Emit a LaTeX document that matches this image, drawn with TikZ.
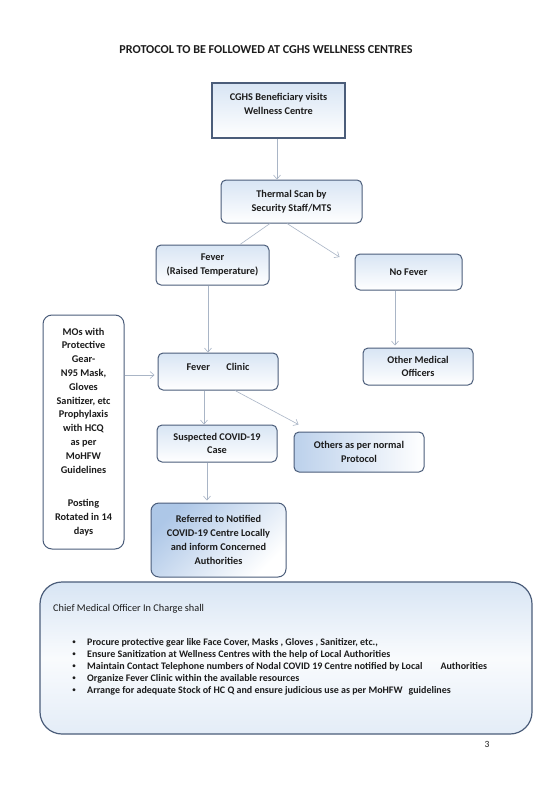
\documentclass[tikz,border=0pt]{standalone}
\usepackage{fontspec}
\setmainfont{Carlito}
\usetikzlibrary{calc,arrows.meta}
\definecolor{bordc}{HTML}{4B5D7A}
\definecolor{arrc}{HTML}{A9B5C6}
\definecolor{lblue}{HTML}{D8E5F4}
\definecolor{mblue}{HTML}{9FBDE3}
\definecolor{txtc}{HTML}{1C1C1C}
\begin{document}
\begin{tikzpicture}[x=1pt,y=-1pt,
  box/.style={draw=bordc, line width=1pt, align=center, text=txtc,
    font=\fontsize{10.3}{13.8}\selectfont\bfseries, inner sep=2pt,
    top color=lblue, bottom color=white},
  rbox/.style={box, rounded corners=5pt},
  conn/.style={draw=arrc, line width=0.6pt, -{Straight Barb[length=4pt,width=7pt]}},
  plainline/.style={draw=arrc, line width=0.6pt},
  bul/.style={anchor=base west, inner sep=0pt, text=txtc, font=\fontsize{10}{12}\selectfont\bfseries},
]
\useasboundingbox[fill=white] (0,0) rectangle (555,792);

\node[font=\fontsize{12.1}{14}\selectfont\bfseries, text=txtc] (title) at (266,50)
  {PROTOCOL TO BE FOLLOWED AT CGHS WELLNESS CENTRES};

\node[box, line width=1.3pt, minimum width=133pt, minimum height=55pt] (visit) at (278.5,110.5)
  {CGHS Beneficiary visits\\Wellness Centre\\~};
\node[rbox, minimum width=141pt, minimum height=43pt] (scan) at (291.5,201.5)
  {Thermal Scan by\\Security Staff/MTS};
\node[rbox, minimum width=113pt, minimum height=40pt] (fever) at (212.5,265)
  {Fever\\(Raised Temperature)};
\node[rbox, minimum width=107pt, minimum height=36pt] (nofever) at (408.5,272)
  {No Fever};
\node[rbox, minimum width=110pt, minimum height=37pt] (othermed) at (418,366.5)
  {Other Medical\\Officers};
\node[rbox, minimum width=120pt, minimum height=37pt] (clinic) at (218,371.5)
  {Fever\hspace{1.6em}Clinic\\[-4pt]~};
\node[rbox, minimum width=81pt, minimum height=234pt, rounded corners=9pt,
  top color=white, bottom color=white] (mos) at (83.5,432)
  {MOs with\\Protective\\Gear-\\N95 Mask,\\Gloves\\Sanitizer, etc\\Prophylaxis\\with HCQ\\as per\\MoHFW\\Guidelines\\[20pt]Posting\\Rotated in 14\\days};
\node[rbox, minimum width=120pt, minimum height=37pt] (susp) at (217,443.5)
  {Suspected COVID-19\\Case};
\node[rbox, minimum width=130pt, minimum height=40pt, left color=mblue!70, right color=white] (others) at (359,452)
  {Others as per normal\\Protocol};
\node[rbox, minimum width=135pt, minimum height=74pt, rounded corners=8pt,
  top color=mblue!85, bottom color=white, shading angle=45] (refer) at (218.5,540)
  {Referred to Notified\\COVID-19 Centre Locally\\and inform Concerned\\Authorities};

% connectors
\draw[conn] (visit.south -| 277,0) -- (scan.north -| 277,0);
\draw[plainline] ($(scan.south)+(-21.5,0)$) -- ($(fever.north)+(27.5,0)$);
\draw[conn] ($(scan.south)+(-4.5,0)$) -- ($(nofever.west)+(-15,-15)$);
\draw[conn] ($(fever.south)+(-4.5,0)$) -- ($(clinic.north)+(-10,0)$);
\draw[conn] ($(nofever.south)+(-13.5,0)$) -- ($(othermed.north)+(-23,-2)$);
\draw[conn] (mos.east |- 0,375) -- ($(clinic.west)+(-3,3.5)$);
\draw[conn] ($(clinic.south)+(-14,0)$) -- ($(susp.north)+(-13,0)$);
\draw[conn] ($(clinic.south)+(17,0)$) -- ($(others.north west)+(5,-7)$);
\draw[conn] ($(susp.south)+(-10,0)$) -- ($(refer.north)+(-11.5,-2)$);

% bottom box
\node[draw=bordc, line width=1.2pt, rounded corners=22pt, minimum width=492pt,
  minimum height=152pt, top color=lblue, bottom color=lblue!70, middle color=white!85!lblue] (cmo) at (286,658) {};
\node[anchor=base west, inner sep=0pt, text=txtc, font=\fontsize{10.3}{12}\selectfont] (cmohead) at (53,611)
  {Chief Medical Officer In Charge shall};
\foreach \i/\t in {0/{Procure protective gear like Face Cover, Masks , Gloves , Sanitizer, etc.,},
                   1/{Ensure Sanitization at Wellness Centres with the help of Local Authorities},
                   2/{Maintain Contact Telephone numbers of Nodal COVID 19 Centre notified by Local\hspace{1.8em}Authorities},
                   3/{Organize Fever Clinic within the available resources},
                   4/{Arrange for adequate Stock of HC Q and ensure judicious use as per MoHFW\hspace{0.6em}guidelines}} {
  \node[bul, font=\fontsize{8}{10}\selectfont] (b\i) at (72,644.5+12*\i) {\textbullet};
  \node[bul] (t\i) at (87,645+12*\i) {\t};
}

\node[font=\fontsize{9.5}{11}\selectfont, text=txtc] (pgno) at (487,744) {3};
\end{tikzpicture}
\end{document}
